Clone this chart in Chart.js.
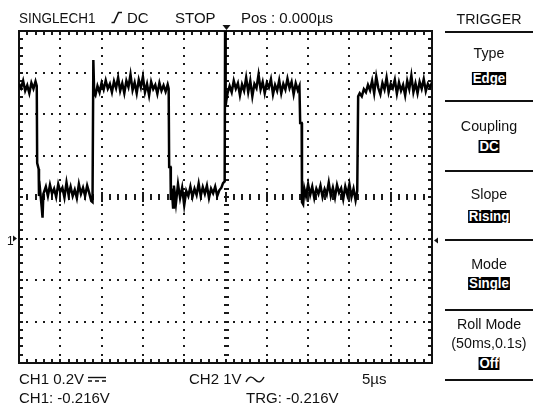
<!DOCTYPE html>
<html>
<head>
<meta charset="utf-8">
<script src="https://cdn.jsdelivr.net/npm/chart.js@4.4.1/dist/chart.umd.min.js"></script>
<style>
    html, body { margin: 0; padding: 0; background: #fff; }
    #wrap { position: relative; width: 533px; height: 405px; overflow: hidden;
            font-family: "Liberation Sans", Arial, sans-serif; font-size: 15px; color: #111; }
    #scope { position: absolute; left: 0; top: 0; }
    .t { position: absolute; white-space: nowrap; line-height: 15px; }
    .t svg { vertical-align: baseline; margin-left: 3px; }
    .narrow { transform: scaleX(0.9); transform-origin: left center; }
    .menu { position: absolute; left: 445px; width: 88px; text-align: center; white-space: nowrap;
            line-height: 15px; transform: scaleX(0.95); }
    .inv { display: inline-block; background: #000; color: #fff; font-weight: bold; font-size: 14px;
           line-height: 13px; height: 13px; padding: 0 1px; overflow: hidden; }
    .sep { position: absolute; left: 445px; width: 88px; height: 2px; background: #111; }
    svg.sym { position: absolute; left: 0; top: 0; }
</style>
</head>
<body>
<div id="wrap">
    <canvas id="scope" width="533" height="405"></canvas>

    <!-- header -->
    <div class="t narrow" style="left:19px; top:10px;">SINGLECH1</div>
    <div class="t" style="left:127px; top:10px;">DC</div>
    <div class="t" style="left:175px; top:10px;">STOP</div>
    <div class="t" style="left:241px; top:10px;">Pos :&nbsp;0.000µs</div>

    <!-- footer -->
    <div class="t" style="left:19px; top:371px;">CH1 0.2V<svg width="20" height="8"><line x1="1" y1="1.5" x2="19" y2="1.5" stroke="#111" stroke-width="1.4"/><path d="M1 5 H5 M8 5 H12 M15 5 H19" stroke="#111" stroke-width="1.4"/></svg></div>
    <div class="t" style="left:189px; top:371px;">CH2 1V<svg width="20" height="8"><path d="M1 6 C4 0, 7 0, 10 3.5 S16 7, 19 1" stroke="#111" stroke-width="1.4" fill="none"/></svg></div>
    <div class="t" style="left:362px; top:371px;">5µs</div>
    <div class="t" style="left:19px; top:390px;">CH1: -0.216V</div>
    <div class="t" style="left:246px; top:390px;">TRG: -0.216V</div>

    <svg class="sym" width="533" height="405">
        <path d="M111.5 22.5 H114 L118.5 12.5 H122" stroke="#111" stroke-width="1.6" fill="none"/>
    </svg>

    <!-- trigger menu -->
    <div class="menu" style="top:11px;">TRIGGER</div>
    <div class="sep" style="top:31px;"></div>
    <div class="menu" style="top:45px;">Type</div>
    <div class="menu" style="top:72px;"><span class="inv">Edge</span></div>
    <div class="sep" style="top:100px;"></div>
    <div class="menu" style="top:118px;">Coupling</div>
    <div class="menu" style="top:140px;"><span class="inv">DC</span></div>
    <div class="sep" style="top:170px;"></div>
    <div class="menu" style="top:186px;">Slope</div>
    <div class="menu" style="top:210px;"><span class="inv">Rising</span></div>
    <div class="sep" style="top:239px;"></div>
    <div class="menu" style="top:256px;">Mode</div>
    <div class="menu" style="top:277px;"><span class="inv">Single</span></div>
    <div class="sep" style="top:309px;"></div>
    <div class="menu" style="top:316px;">Roll Mode</div>
    <div class="menu" style="top:335px;">(50ms,0.1s)</div>
    <div class="menu" style="top:357px;"><span class="inv">Off</span></div>
    <div class="sep" style="top:379px;"></div>
</div>

<script>
// CH1 trace, time in µs (5 µs/div, trigger at 0) and volts (0.2 V/div)
const timeUs = [
    -25.00, -24.75, -24.50, -24.25, -24.00, -23.75, -23.50, -23.25, -23.00, -22.85,
    -22.80, -22.62, -22.58, -22.45, -22.25, -22.15, -22.05, -21.75, -21.50, -21.25,
    -21.00, -20.75, -20.50, -20.25, -20.00, -19.75, -19.50, -19.25, -19.00, -18.75,
    -18.50, -18.25, -18.00, -17.75, -17.50, -17.25, -17.00, -16.75, -16.50, -16.25,
    -16.10, -16.00, -15.90, -15.75, -15.50, -15.25, -15.00, -14.75, -14.50, -14.25,
    -14.00, -13.75, -13.50, -13.25, -13.00, -12.75, -12.50, -12.25, -12.00, -11.75,
    -11.50, -11.25, -11.00, -10.75, -10.50, -10.25, -10.00, -9.75, -9.50, -9.25,
    -9.00, -8.75, -8.50, -8.25, -8.00, -7.75, -7.50, -7.25, -7.00, -6.88,
    -6.82, -6.66, -6.62, -6.50, -6.35, -6.25, -6.00, -5.75, -5.50, -5.25,
    -5.00, -4.75, -4.50, -4.25, -4.00, -3.75, -3.50, -3.25, -3.00, -2.75,
    -2.50, -2.25, -2.00, -1.75, -1.50, -1.25, -1.00, -0.75, -0.50, -0.30,
    -0.10, -0.05, 0.02, 0.10, 0.25, 0.50, 0.75, 1.00, 1.25, 1.50,
    1.75, 2.00, 2.25, 2.50, 2.75, 3.00, 3.25, 3.50, 3.75, 4.00,
    4.25, 4.50, 4.75, 5.00, 5.25, 5.50, 5.75, 6.00, 6.25, 6.50,
    6.75, 7.00, 7.25, 7.50, 7.75, 8.00, 8.25, 8.50, 8.75, 8.95,
    9.04, 9.22, 9.26, 9.40, 9.55, 9.75, 10.00, 10.25, 10.50, 10.75,
    11.00, 11.25, 11.50, 11.75, 12.00, 12.25, 12.50, 12.75, 13.00, 13.25,
    13.50, 13.75, 14.00, 14.25, 14.50, 14.75, 15.00, 15.25, 15.50, 15.75,
    15.95, 16.06, 16.25, 16.50, 16.75, 17.00, 17.25, 17.50, 17.75, 18.00,
    18.25, 18.50, 18.75, 19.00, 19.25, 19.50, 19.75, 20.00, 20.25, 20.50,
    20.75, 21.00, 21.25, 21.50, 21.75, 22.00, 22.25, 22.50, 22.75, 23.00,
    23.25, 23.50, 23.75, 24.00, 24.25, 24.50, 24.75, 25.00
];
const ch1V = [
    0.745, 0.725, 0.760, 0.712, 0.738, 0.700, 0.750, 0.722, 0.757, 0.735,
    0.364, 0.335, 0.205, 0.235, 0.150, 0.100, 0.215, 0.250, 0.205, 0.258,
    0.215, 0.240, 0.200, 0.262, 0.225, 0.245, 0.198, 0.270, 0.210, 0.250,
    0.205, 0.235, 0.195, 0.262, 0.215, 0.245, 0.205, 0.255, 0.220, 0.180,
    0.175, 0.860, 0.700, 0.690, 0.735, 0.705, 0.750, 0.718, 0.762, 0.722,
    0.745, 0.705, 0.758, 0.725, 0.775, 0.712, 0.748, 0.700, 0.760, 0.730,
    0.790, 0.715, 0.752, 0.700, 0.765, 0.728, 0.780, 0.705, 0.745, 0.690,
    0.755, 0.720, 0.740, 0.698, 0.750, 0.712, 0.738, 0.708, 0.742, 0.722,
    0.345, 0.345, 0.185, 0.240, 0.150, 0.255, 0.170, 0.262, 0.195, 0.245,
    0.160, 0.230, 0.205, 0.250, 0.200, 0.240, 0.210, 0.265, 0.205, 0.248,
    0.215, 0.255, 0.195, 0.240, 0.218, 0.250, 0.205, 0.232, 0.245, 0.267,
    0.275, 1.000, 0.640, 0.665, 0.700, 0.735, 0.705, 0.760, 0.722, 0.748,
    0.690, 0.742, 0.712, 0.775, 0.705, 0.760, 0.685, 0.745, 0.725, 0.790,
    0.718, 0.755, 0.700, 0.750, 0.728, 0.768, 0.695, 0.740, 0.712, 0.762,
    0.700, 0.745, 0.718, 0.770, 0.725, 0.755, 0.695, 0.748, 0.715, 0.735,
    0.557, 0.557, 0.175, 0.165, 0.240, 0.205, 0.262, 0.210, 0.250, 0.195,
    0.240, 0.215, 0.255, 0.200, 0.238, 0.212, 0.270, 0.205, 0.245, 0.198,
    0.258, 0.220, 0.242, 0.190, 0.250, 0.210, 0.262, 0.200, 0.240, 0.185,
    0.230, 0.685, 0.700, 0.685, 0.720, 0.705, 0.740, 0.715, 0.760, 0.700,
    0.780, 0.725, 0.695, 0.750, 0.718, 0.775, 0.705, 0.745, 0.725, 0.765,
    0.698, 0.752, 0.712, 0.740, 0.690, 0.760, 0.720, 0.785, 0.705, 0.748,
    0.700, 0.755, 0.722, 0.768, 0.710, 0.745, 0.728, 0.752
];

// graticule: 10 x 8 divisions
const xDivUs = [-25, -20, -15, -10, -5, 0, 5, 10, 15, 20, 25];
const yDivV = [-0.6, -0.4, -0.2, 0, 0.2, 0.4, 0.6, 0.8, 1.0];
const X_MINOR_US = 1;
const Y_MINOR_V = 0.04;
const X_CENTER_US = 0;
const Y_CENTER_V = 0.2;
const CH1_GROUND_V = 0;
const TRIG_MARK_V = -0.01;

const graticule = {
    id: "graticule",
    beforeDatasetsDraw(chart) {
        const { ctx, chartArea: a, scales: { x, y } } = chart;
        const xs = [];
        const ys = [];
        const nx = Math.round((xDivUs[xDivUs.length - 1] - xDivUs[0]) / X_MINOR_US);
        const ny = Math.round((yDivV[yDivV.length - 1] - yDivV[0]) / Y_MINOR_V);
        for (let i = 0; i <= nx; i++) xs.push(Math.round(x.getPixelForValue(xDivUs[0] + i * X_MINOR_US)));
        for (let i = 0; i <= ny; i++) ys.push(Math.round(y.getPixelForValue(yDivV[0] + i * Y_MINOR_V)));
        const xMaj = xDivUs.map(t => Math.round(x.getPixelForValue(t)));
        const yMaj = yDivV.map(v => Math.round(y.getPixelForValue(v)));
        const cx = Math.round(x.getPixelForValue(X_CENTER_US));
        const cy = Math.round(y.getPixelForValue(Y_CENTER_V));

        ctx.save();
        ctx.fillStyle = "#1a1a1a";

        // dotted division lines
        xMaj.slice(1, -1).forEach(px => {
            if (px === cx) return;
            ys.forEach(py => ctx.fillRect(px - 1, py - 1, 2, 2));
        });
        yMaj.slice(1, -1).forEach(py => {
            if (py === cy) return;
            xs.forEach(px => ctx.fillRect(px - 1, py - 1, 2, 2));
        });

        // centre axes with minor ticks
        ys.forEach(py => ctx.fillRect(cx - 2, py - 1, 5, 2));
        xs.forEach(px => {
            const big = xMaj.includes(px);
            ctx.fillRect(px - 1, cy - (big ? 5 : 3), 2, big ? 10 : 6);
        });

        // border ticks
        xs.forEach(px => {
            ctx.fillRect(px - 1, a.top, 2, 4);
            ctx.fillRect(px - 1, a.bottom - 4, 2, 4);
        });
        ys.forEach(py => {
            ctx.fillRect(a.left, py - 1, 4, 2);
            ctx.fillRect(a.right - 4, py - 1, 4, 2);
        });

        // frame
        ctx.strokeStyle = "#111";
        ctx.lineWidth = 2;
        ctx.strokeRect(a.left, a.top, a.right - a.left, a.bottom - a.top);
        ctx.restore();
    },
    afterDraw(chart) {
        const { ctx, chartArea: a, scales: { x, y } } = chart;
        const tx = Math.round(x.getPixelForValue(X_CENTER_US)) + 0.5;
        const gy = y.getPixelForValue(CH1_GROUND_V);
        const ty = y.getPixelForValue(TRIG_MARK_V);
        ctx.save();
        ctx.fillStyle = "#111";
        // trigger position marker
        ctx.beginPath();
        ctx.moveTo(tx - 4, a.top - 6);
        ctx.lineTo(tx + 4, a.top - 6);
        ctx.lineTo(tx, a.top - 1);
        ctx.closePath();
        ctx.fill();
        // CH1 ground marker
        ctx.font = "12px 'Liberation Sans', Arial, sans-serif";
        ctx.textBaseline = "middle";
        ctx.fillText("1", 7, gy + 3);
        ctx.beginPath();
        ctx.moveTo(13, gy - 3);
        ctx.lineTo(17, gy);
        ctx.lineTo(13, gy + 3);
        ctx.closePath();
        ctx.fill();
        // trigger level marker
        ctx.beginPath();
        ctx.moveTo(a.right + 2, ty);
        ctx.lineTo(a.right + 6, ty - 3);
        ctx.lineTo(a.right + 6, ty + 3);
        ctx.closePath();
        ctx.fill();
        ctx.restore();
    }
};

new Chart(document.getElementById("scope"), {
    type: "line",
    data: {
        datasets: [{
            label: "CH1",
            data: timeUs.map((t, i) => ({ x: t, y: ch1V[i] })),
            borderColor: "#000",
            borderWidth: 2.5,
            pointRadius: 0,
            tension: 0,
            fill: false
        }]
    },
    options: {
        responsive: false,
        animation: false,
        layout: { padding: { left: 19, right: 101, top: 31, bottom: 42 } },
        plugins: { legend: { display: false }, tooltip: { enabled: false } },
        scales: {
            x: { type: "linear", display: false, min: xDivUs[0], max: xDivUs[xDivUs.length - 1] },
            y: { type: "linear", display: false, min: yDivV[0], max: yDivV[yDivV.length - 1] }
        }
    },
    plugins: [graticule]
});
</script>
</body>
</html>
